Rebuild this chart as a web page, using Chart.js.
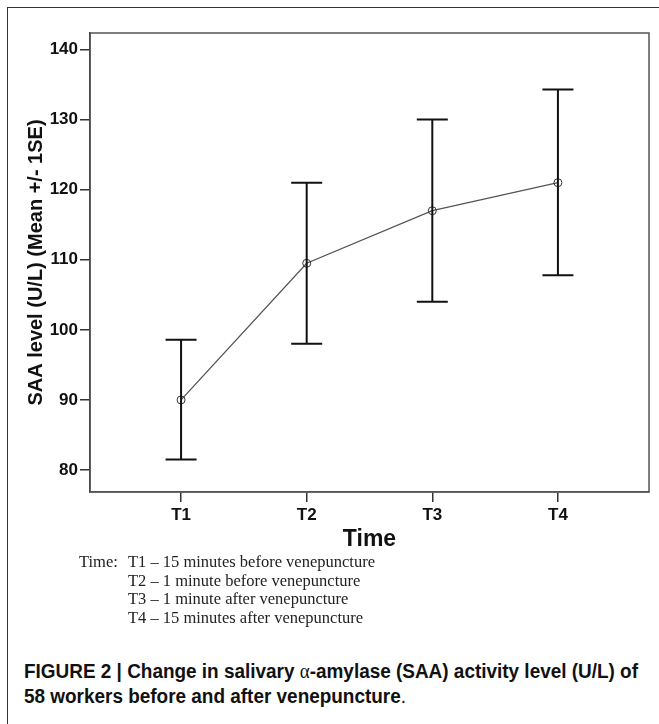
<!DOCTYPE html>
<html>
<head>
<meta charset="utf-8">
<script src="https://cdn.jsdelivr.net/npm/chart.js@4.4.1/dist/chart.umd.min.js"></script>
<style>
  html, body { margin: 0; padding: 0; background: #fff; }
  body { width: 659px; height: 724px; position: relative; overflow: hidden; }
  #frame {
    position: absolute; left: 7px; top: 7px; width: 700px; height: 760px;
    border-left: 1.5px solid #333; border-top: 1.5px solid #333;
  }
  #chart { position: absolute; left: 0; top: 0; }
  #legend {
    position: absolute; left: 79px; top: 553px;
    font-family: "Liberation Serif", "Times New Roman", serif;
    font-size: 16.5px; line-height: 18.5px; color: #222; white-space: nowrap;
  }
  #legend .lbl { display: inline-block; width: 49px; }
  #legend .row { padding-left: 49px; }
  #legend .row.first { padding-left: 0; }
  #caption {
    position: absolute; left: 24px; top: 659px; transform-origin: 0 0;
    font-family: "Liberation Sans", Arial, sans-serif;
    font-weight: bold; font-size: 20px; line-height: 25px; color: #111; white-space: nowrap;
  }
  #caption .alpha { font-family: "Liberation Serif", serif; font-weight: normal; }
  #caption .dot { font-weight: normal; }
</style>
</head>
<body>
<div id="frame"></div>
<canvas id="chart" width="659" height="560"></canvas>
<div id="legend">
  <div class="row first"><span class="lbl">Time:</span>T1 – 15 minutes before venepuncture</div>
  <div class="row">T2 – 1 minute before venepuncture</div>
  <div class="row">T3 – 1 minute after venepuncture</div>
  <div class="row">T4 – 15 minutes after venepuncture</div>
</div>
<div id="caption">
  <div id="capLine1"><span>FIGURE 2 | Change in salivary <span class="alpha">α</span>-amylase (SAA) activity level (U/L) of</span></div>
  <div>58 workers before and after venepuncture<span class="dot">.</span></div>
</div>
<script>
// Values
const categories  = ['T1', 'T2', 'T3', 'T4'];
const meanValues  = [90, 109.5, 117, 121];
const upperValues = [98.6, 121, 130, 134.3];
const lowerValues = [81.5, 98, 104, 107.8];
const yTicks      = [80, 90, 100, 110, 120, 130, 140];

const TICK_FONT = { family: 'Liberation Sans', size: 17, weight: 'bold' };

// The caption face is condensed: squeeze the first line to the reference width
(function fitCaption() {
  const cap = document.getElementById('caption');
  const w = document.querySelector('#capLine1 > span').getBoundingClientRect().width;
  cap.style.transform = 'scaleX(' + (614 / w) + ')';
})();

// Error bars (mean +/- 1 SE) drawn through the chart scales
const errorBars = {
  id: 'errorBars',
  afterDatasetsDraw(chart) {
    const { ctx, scales: { x, y } } = chart;
    ctx.save();
    ctx.strokeStyle = '#111';
    ctx.lineWidth = 2;
    categories.forEach((_, i) => {
      const px  = x.getPixelForValue(i + 1);
      const top = y.getPixelForValue(upperValues[i]);
      const bot = y.getPixelForValue(lowerValues[i]);
      ctx.beginPath();
      ctx.moveTo(px, top); ctx.lineTo(px, bot);
      ctx.moveTo(px - 15.5, top); ctx.lineTo(px + 15.5, top);
      ctx.moveTo(px - 15.5, bot); ctx.lineTo(px + 15.5, bot);
      ctx.stroke();
    });
    ctx.restore();
  },
};

// Box round the plot area
const plotBox = {
  id: 'plotBox',
  beforeDatasetsDraw(chart) {
    const { ctx, chartArea: a } = chart;
    ctx.save();
    ctx.strokeStyle = '#555';
    ctx.lineWidth = 1.5;
    ctx.strokeRect(a.left, a.top, a.right - a.left, a.bottom - a.top);
    ctx.restore();
  },
};

new Chart(document.getElementById('chart'), {
  type: 'line',
  data: {
    datasets: [{
      data: meanValues.map((v, i) => ({ x: i + 1, y: v })),
      borderColor: '#555',
      borderWidth: 1.3,
      pointRadius: 4,
      pointHoverRadius: 4,
      pointBorderWidth: 1,
      pointBorderColor: '#333',
      pointBackgroundColor: 'rgba(255,255,255,0)',
      tension: 0,
    }],
  },
  options: {
    responsive: false,
    devicePixelRatio: 1,
    animation: false,
    layout: { padding: { top: 33, right: 10, left: 0, bottom: 0 } },
    plugins: { legend: { display: false }, tooltip: { enabled: false } },
    scales: {
      x: {
        type: 'linear',
        min: 0.275,
        max: 4.725,
        afterBuildTicks: (s) => { s.ticks = categories.map((_, i) => ({ value: i + 1 })); },
        afterFit: (s) => { s.height = 68; },
        ticks: {
          callback: (v) => categories[v - 1],
          font: TICK_FONT, color: '#111', padding: 3, maxRotation: 0,
        },
        grid: { drawOnChartArea: false, tickLength: 10, color: '#333', lineWidth: 1.5 },
        border: { display: true, color: '#555', width: 1.5 },
        title: {
          display: true, text: 'Time', color: '#111',
          font: { family: 'Liberation Sans', size: 23, weight: 'bold' },
          padding: { top: 0, bottom: 7 },
        },
      },
      y: {
        min: 76.86,
        max: 142.36,
        afterBuildTicks: (s) => { s.ticks = yTicks.map((v) => ({ value: v })); },
        afterFit: (s) => { s.width = 90; },
        ticks: { font: TICK_FONT, color: '#111', padding: 2 },
        grid: { drawOnChartArea: false, tickLength: 10, color: '#333', lineWidth: 1.5 },
        border: { display: true, color: '#222', width: 1.5 },
        title: {
          display: true, text: 'SAA level (U/L) (Mean +/- 1SE)', color: '#111',
          font: { family: 'Liberation Sans', size: 20, weight: 'bold' },
          padding: { top: 24, bottom: 0 },
        },
      },
    },
  },
  plugins: [plotBox, errorBars],
});
</script>
</body>
</html>
